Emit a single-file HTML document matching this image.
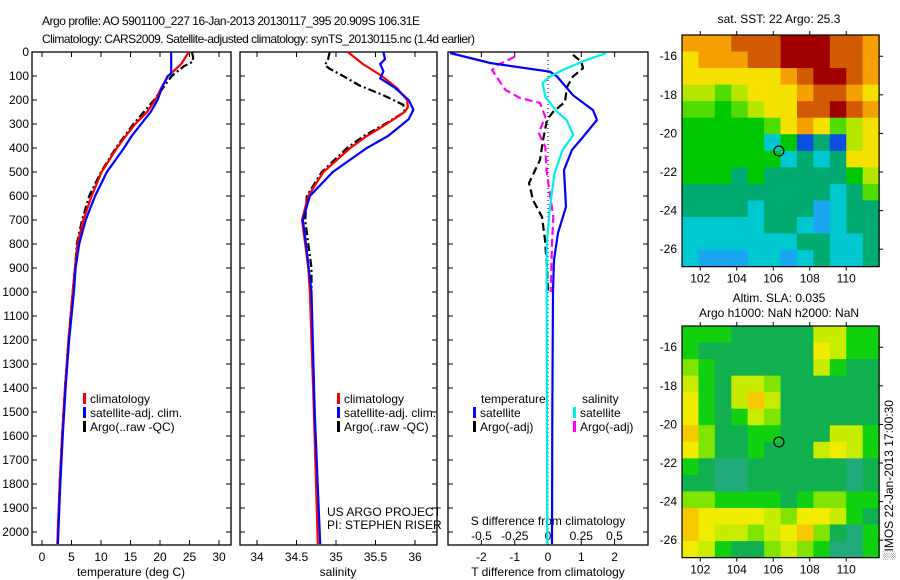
<!DOCTYPE html>
<html><head><meta charset="utf-8"><style>
html,body{margin:0;padding:0;background:#fff;}
svg{display:block;font-family:"Liberation Sans",sans-serif;}
</style></head><body>
<svg id="c" width="900" height="580" viewBox="0 0 900 580">
<text x="42" y="25" font-size="12" textLength="378">Argo profile: AO 5901100_227 16-Jan-2013 20130117_395 20.909S 106.31E</text>
<text x="42" y="43" font-size="12" textLength="433">Climatology: CARS2009. Satellite-adjusted climatology: synTS_20130115.nc (1.4d earlier)</text>
</svg>
<script>
// ---------- data ----------
const depthTicks=[0,100,200,300,400,500,600,700,800,900,1000,1100,1200,1300,1400,1500,1600,1700,1800,1900,2000];
const tTicks=[0,5,10,15,20,25,30];
const sTicks=[34,34.5,35,35.5,36];
const dTTicks=[-2,-1,0,1,2];
const dSTicks=[-0.5,-0.25,0,0.25,0.5];
const dSTickLabels=["-0.5","-0.25","0","0.25","0.5"];

const tClimDepth=[0,50,100,150,200,250,300,350,400,500,600,700,800,900,1000,1200,1400,1600,1800,2050];
const tClim=[24.9,23.6,21.4,20.2,19.2,17.8,15.8,14.2,12.7,10.1,8.4,7.0,6.0,5.6,5.2,4.5,3.9,3.4,3.0,2.6];
const tSatDepth=[0,90,100,150,200,250,300,350,400,500,600,700,800,900,1000,1200,1400,1600,1800,2050];
const tSat=[21.9,21.9,21.3,20.3,19.6,18.4,16.8,15.2,13.9,11.0,9.0,7.4,6.3,5.7,5.4,4.6,4.0,3.5,3.1,2.7];
const tArgoDepth=[0,20,40,60,100,150,200,300,400,500,600,700,800,900,1000,1200,1400,1600,1800,2000];
const tArgo=[25.4,25.6,25.6,24.0,22.0,20.5,19.0,15.5,12.5,10.0,8.0,6.8,5.9,5.6,5.2,4.5,3.9,3.4,3.0,2.7];

const sClimDepth=[0,50,100,150,200,230,250,300,350,400,500,600,700,800,900,1000,1500,2050];
const sClim=[35.15,35.34,35.58,35.77,35.9,35.91,35.87,35.64,35.39,35.18,34.84,34.65,34.57,34.61,34.65,34.67,34.72,34.77];
const sSatDepth=[0,30,50,80,110,150,200,240,280,350,400,500,600,700,800,1000,1500,2050];
const sSat=[35.6,35.62,35.56,35.6,35.56,35.75,35.92,35.98,35.92,35.66,35.39,34.96,34.67,34.58,34.62,34.69,34.73,34.8];
const sArgoDepth=[0,30,55,70,100,140,180,220,250,300,350,400,500,600,700,800,900,1000];
const sArgo=[34.92,34.9,34.86,34.92,35.09,35.3,35.6,35.85,35.87,35.62,35.35,35.14,34.82,34.63,34.61,34.65,34.69,34.69];

const dTSatDepth=[4,46,82,102,180,242,283,354,408,492,645,754,867,1000,1500,2050];
const dTSat=[-2.94,-1.74,0.06,0.27,0.75,1.35,1.47,1.05,0.72,0.48,0.54,0.3,0.18,0.15,0.13,0.12];
const dTArgoDepth=[12,40,67,102,146,208,250,283,367,450,546,617,687,783,900,1000];
const dTArgo=[0.75,1.0,1.05,0.75,0.57,0.51,0.15,-0.03,-0.15,-0.24,-0.57,-0.45,-0.18,-0.09,-0.03,0];
const dSSatDepth=[4,33,75,102,129,187,250,283,346,408,504,645,800,1000,1500,2050];
const dSSat=[0.44,0.29,0.11,0.015,-0.04,-0.02,0.07,0.14,0.19,0.11,0.05,0.015,-0.01,-0.01,-0.008,-0.005];
const dSArgoDepth=[20,54,75,117,158,192,212,271,337,396,500,687,800,1000];
const dSArgo=[-0.25,-0.38,-0.42,-0.37,-0.32,-0.21,-0.06,-0.02,-0.07,-0.02,-0.01,0.04,0.03,0.02];

const lonTicks=[102,104,106,108,110];
const latTicks=[16,18,20,22,24,26];
const argoLon=106.31, argoLat=20.909;
const sstGrid=[
"888999AAA998","788899AAA998","77777789AA98","665677789987","554567799A98",
"444445787567","444442403067","444444232377","444343333346","333333333235",
"333323331233","222223321233","222222233223","211122123223"];
const slaGrid=[
"222111114422","211111115422","321111114211","421443111111","521464111111",
"521243111111","631122111442","531121114542","210011111101","110011111101",
"332222123322","655554355421","654434563102","542113432002"];
const sstColors=["#0a4fe0","#1aa6f0","#00c8d0","#00aa70","#00c800","#50dc00","#b4e600","#f5e100","#f5a000","#d25a00","#a00000"];
const slaColors=["#20aa7a","#10b050","#10d010","#80e400","#c8ec00","#f0ec00","#f5c800"];

// ---------- helpers ----------
const svg=document.getElementById('c');
const NS='http://www.w3.org/2000/svg';
function mk(tag,at){const e=document.createElementNS(NS,tag);for(const k in at)e.setAttribute(k,at[k]);svg.appendChild(e);return e;}
const yD=d=>52+d*0.24;
const PANELS=[{l:32,r:231},{l:240,r:437},{l:448,r:648}];
const xT=t=>42+t*5.9;
const xS=s=>257+(s-34)*79;
const xDT=t=>548+t*33.3;
const xDS=s=>548+s*133;

function line(xs,ys,xf,color,dash,name){
  let p=xs.map((v,i)=>xf(v).toFixed(1)+','+yD(ys[i]).toFixed(1)).join(' ');
  const e=mk('polyline',{points:p,fill:'none',stroke:color,'stroke-width':2.2});
  if(dash)e.setAttribute('stroke-dasharray',dash);
  
  
}
function txt(x,y,s,anchor,size,name){const e=mk('text',{x:x,y:y,'font-size':size||12,'text-anchor':anchor||'start'});e.textContent=s;
  
  return e;}

// frames and depth ticks
PANELS.forEach((p,i)=>{
  const f=mk('rect',{x:p.l,y:52,width:p.r-p.l,height:493,fill:'none',stroke:'#000','stroke-width':1.3});
  
  
  depthTicks.forEach(d=>{
    mk('line',{x1:p.l,x2:p.l+5,y1:yD(d),y2:yD(d),stroke:'#000'});
    mk('line',{x1:p.r-5,x2:p.r,y1:yD(d),y2:yD(d),stroke:'#000'});
  });
});
depthTicks.forEach(d=>{txt(29,yD(d)+4,String(d),'end',12,'depth-tick-label');});

// x ticks
tTicks.forEach(t=>{mk('line',{x1:xT(t),x2:xT(t),y1:545,y2:540,stroke:'#000'});mk('line',{x1:xT(t),x2:xT(t),y1:52,y2:57,stroke:'#000'});txt(xT(t),561,String(t),'middle',12,'temperature-tick-label');});
sTicks.forEach(s=>{mk('line',{x1:xS(s),x2:xS(s),y1:545,y2:540,stroke:'#000'});mk('line',{x1:xS(s),x2:xS(s),y1:52,y2:57,stroke:'#000'});txt(xS(s),561,String(s),'middle',12,'salinity-tick-label');});
dTTicks.forEach(t=>{mk('line',{x1:xDT(t),x2:xDT(t),y1:545,y2:540,stroke:'#000'});mk('line',{x1:xDT(t),x2:xDT(t),y1:52,y2:57,stroke:'#000'});txt(xDT(t),561,String(t),'middle',12,'t-diff-tick-label');});
dSTicks.forEach((s,i)=>{txt(xDS(s),540,dSTickLabels[i],'middle',12,'s-diff-tick-label');});
txt(131,576,'temperature (deg C)','middle',12,'x-axis-title-temperature');
txt(338,576,'salinity','middle',12,'x-axis-title-salinity');
txt(548,576,'T difference from climatology','middle',12,'x-axis-title-t-diff');
txt(548,525,'S difference from climatology','middle',12,'s-diff-axis-title');
// zero line
const z=mk('line',{x1:548,x2:548,y1:52,y2:545,stroke:'#000','stroke-dasharray':'1,3'});



// series
line(tArgo,tArgoDepth,xT,'#000','8,3,2,3','temp-argo-line');
line(tClim,tClimDepth,xT,'#f00',null,'temp-climatology-line');
line(tSat,tSatDepth,xT,'#00f',null,'temp-satellite-line');
line(sArgo,sArgoDepth,xS,'#000','8,3,2,3','sal-argo-line');
line(sClim,sClimDepth,xS,'#f00',null,'sal-climatology-line');
line(sSat,sSatDepth,xS,'#00f',null,'sal-satellite-line');
line(dTArgo,dTArgoDepth,xDT,'#000','8,4','tdiff-argo-line');
line(dSArgo,dSArgoDepth,xDS,'#f0f','8,4','sdiff-argo-line');
line(dTSat,dTSatDepth,xDT,'#00f',null,'tdiff-satellite-line');
line(dSSat,dSSatDepth,xDS,'#0ee',null,'sdiff-satellite-line');

// legends
function leg(x,y,color,label,name){
  const r=mk('rect',{x:x,y:y-10,width:3,height:11,fill:color});
  
  
  txt(x+7,y,label,'start',12,name);
}
[[83,'climatology','#f00'],[83,'satellite-adj. clim.','#00f'],[83,'Argo(..raw -QC)','#000']].forEach((a,i)=>{leg(a[0],403+i*14,a[2],a[1],'legend-temp-entry');});
[[337,'climatology','#f00'],[337,'satellite-adj. clim.','#00f'],[337,'Argo(..raw -QC)','#000']].forEach((a,i)=>{leg(a[0],403+i*14,a[2],a[1],'legend-sal-entry');});
txt(481,403,'temperature','start',12,'legend-temperature-header');
txt(582,403,'salinity','start',12,'legend-salinity-header');
leg(473,417,'#00f','satellite','legend-tdiff-satellite');
leg(473,431,'#000','Argo(-adj)','legend-tdiff-argo');
leg(573,417,'#0ee','satellite','legend-sdiff-satellite');
leg(573,431,'#f0f','Argo(-adj)','legend-sdiff-argo');
txt(327,516,'US ARGO PROJECT','start',12,'project-credit');
txt(327,529,'PI: STEPHEN RISER','start',12,'pi-credit');

// maps
const xL=lon=>682+(lon-101)*18.25;
function map(top,grid,colors,name){
  const L=101,R=111.8,T=14.9,B=26.9;
  const rows=grid.length, cols=12;
  const cw=(xL(R)-xL(L))/cols, ch=(B-T)*19.3/rows;
  grid.forEach((row,ri)=>{
    for(let ci=0;ci<cols;ci++){
      const v=parseInt(row[ci],16);
      const c=mk('rect',{x:(xL(L)+ci*cw).toFixed(2),y:(top+ri*ch).toFixed(2),width:(cw+0.6).toFixed(2),height:(ch+0.6).toFixed(2),fill:colors[v]});
      
      
    }
  });
  const yLat=lat=>top+(lat-T)*19.3;
  const f=mk('rect',{x:xL(L),y:top,width:xL(R)-xL(L),height:(B-T)*19.3,fill:'none',stroke:'#000','stroke-width':1.2});
  
  
  lonTicks.forEach(l=>{mk('line',{x1:xL(l),x2:xL(l),y1:top-4,y2:top,stroke:'#000'});mk('line',{x1:xL(l),x2:xL(l),y1:top+(B-T)*19.3,y2:top+(B-T)*19.3+4,stroke:'#000'});txt(xL(l),top+(B-T)*19.3+16,String(l),'middle',12,name+'-lon-label');});
  latTicks.forEach(l=>{mk('line',{x1:xL(R),x2:xL(R)+4,y1:yLat(l),y2:yLat(l),stroke:'#000'});txt(677,yLat(l)+4,'-'+l,'end',12,name+'-lat-label');});
  const c=mk('circle',{cx:xL(argoLon),cy:yLat(argoLat),r:5,fill:'none',stroke:'#000','stroke-width':1.2});
  
  
}
map(35,sstGrid,sstColors,'sst-map');
map(326,slaGrid,slaColors,'sla-map');
txt(779,23,'sat. SST: 22 Argo: 25.3','middle',12,'sst-map-title');
txt(779,302,'Altim. SLA: 0.035','middle',12,'sla-map-title');
txt(779,317,'Argo h1000: NaN h2000: NaN','middle',12,'sla-map-subtitle');
const v=txt(0,0,'\u2591IMOS 22-Jan-2013 17:00:30','start',12,'imos-timestamp');
v.setAttribute('transform','translate(893,560) rotate(-90)');
</script>
</body></html>
